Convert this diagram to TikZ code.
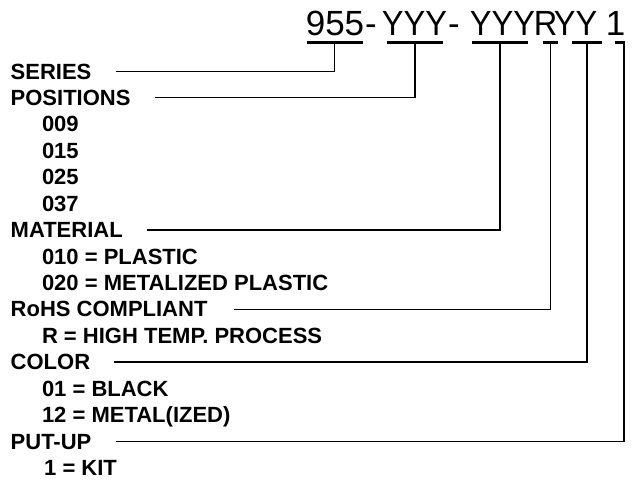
\documentclass[tikz,border=0pt]{standalone}
\usepackage{fontspec}
\setmainfont{Liberation Sans}
\newcommand{\tsq}[1]{\scalebox{0.93}[1]{#1}}
\begin{document}
\begin{tikzpicture}[x=1pt,y=-1pt,
  lbl/.style={anchor=base west,inner sep=0pt,font=\fontsize{22}{24}\selectfont\bfseries},
  ttl/.style={anchor=base,inner sep=0pt,font=\fontsize{35}{40}\selectfont},
  uline/.style={line width=2.6pt},
  conn/.style={line width=1.3pt}]
\useasboundingbox (0,0) rectangle (634,485);
\fill[white] (0,0) rectangle (634,485);
% title
\node[ttl] (p955) at (335,35.7) {955};
\node[ttl] (d1) at (371,35.7) {-};
\node[ttl] (pY1) at (414.5,35.7) {\tsq{YYY}};
\node[ttl] (d2) at (454,35.7) {-};
\node[ttl] (pY2) at (502.5,35.7) {\tsq{YYY}};
\node[ttl] (pR) at (545.5,35.7) {\tsq{R}};
\node[ttl] (pYY) at (575.5,35.7) {\tsq{YY}};
\node[ttl] (p1) at (615.5,35.7) {1};
% underlines
\draw[uline] (307,42.7) -- (363,42.7);
\draw[uline] (387,42.7) -- (443,42.7);
\draw[uline] (472,42.7) -- (528,42.7);
\draw[uline] (543,42.7) -- (558,42.7);
\draw[uline] (572,42.7) -- (602,42.7);
\draw[uline] (615,42.7) -- (625,42.7);
\coordinate (t1) at (334.3,42.7);
\coordinate (t2) at (415,42.7);
\coordinate (t3) at (500,42.7);
\coordinate (t4) at (550.7,42.7);
\coordinate (t5) at (587,42.7);
\coordinate (t6) at (624,42.7);
% labels
\node[lbl] (series) at (10.5,79) {SERIES};
\node[lbl] (positions) at (10.5,105.4) {POSITIONS};
\node[lbl] (p009) at (41.8,131.9) {009};
\node[lbl] (p015) at (41.8,158.3) {015};
\node[lbl] (p025) at (41.8,184.7) {025};
\node[lbl] (p037) at (41.8,211.2) {037};
\node[lbl] (material) at (10.5,237.6) {MATERIAL};
\node[lbl] (m010) at (41.8,264) {010 = PLASTIC};
\node[lbl] (m020) at (41.8,290.4) {020 = METALIZED PLASTIC};
\node[lbl] (rohs) at (10.5,316.9) {RoHS COMPLIANT};
\node[lbl] (rr) at (41.8,343.3) {R = HIGH TEMP. PROCESS};
\node[lbl] (color) at (10.5,369.7) {COLOR};
\node[lbl] (c01) at (41.8,396.2) {01 = BLACK};
\node[lbl] (c12) at (41.8,422.6) {12 = METAL(IZED)};
\node[lbl] (putup) at (10.5,449) {PUT-UP};
\node[lbl] (kit) at (44,475.5) {1 = KIT};
% connectors
\draw[conn] (t1) |- ([xshift=24pt]series.east);
\draw[conn] (t2) |- ([xshift=24pt]positions.east);
\draw[conn] (t3) |- ([xshift=24pt]material.east);
\draw[conn] (t4) |- ([xshift=26pt]rohs.east);
\draw[conn] (t5) |- ([xshift=24pt]color.east);
\draw[conn] (t6) |- ([xshift=24pt]putup.east);
\end{tikzpicture}
\end{document}
